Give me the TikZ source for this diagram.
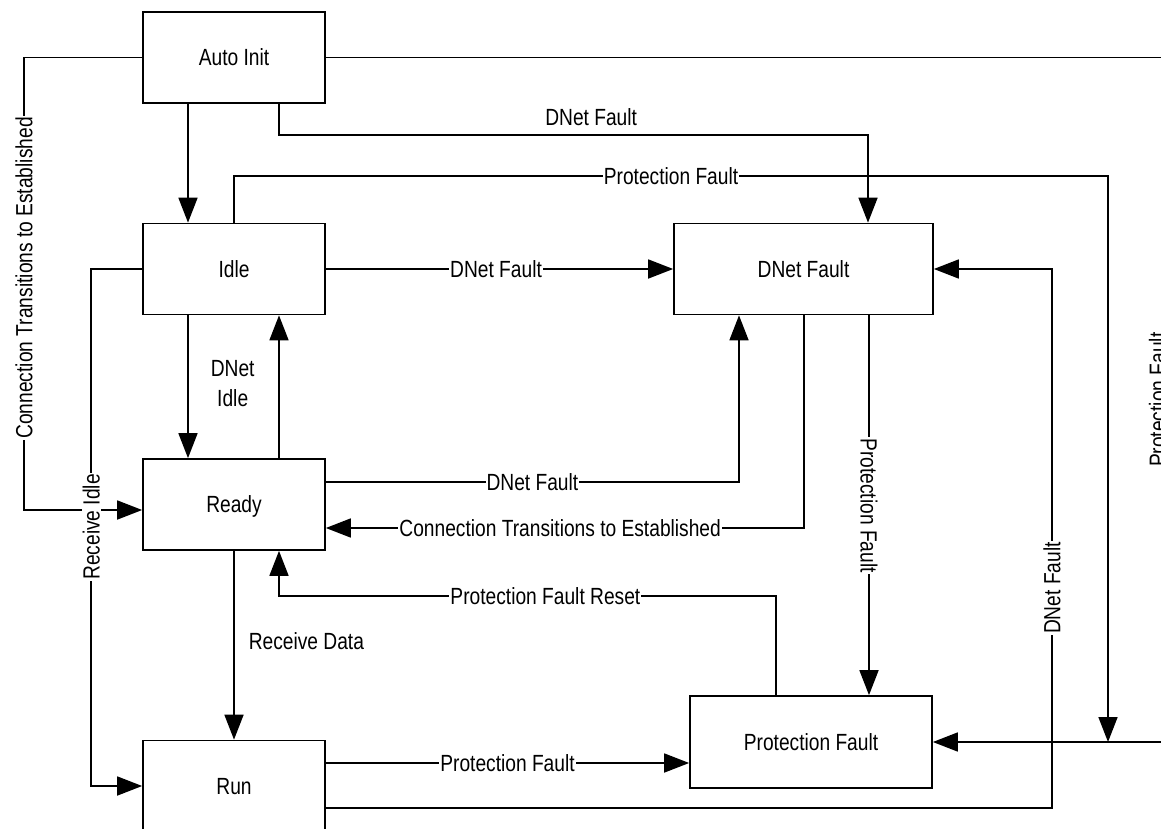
\documentclass[tikz,border=0pt]{standalone}
\usepackage{fontspec}
\setmainfont{Liberation Sans}[FakeStretch=0.82]
\usetikzlibrary{arrows.meta}
\begin{document}
\begin{tikzpicture}[x=1pt,y=-1pt,
  every node/.style={font=\fontsize{23.4pt}{30pt}\selectfont},
  box/.style={draw, line width=1.7pt, minimum width=182pt, minimum height=91pt,
    inner sep=0pt, fill=white, text height=16.8pt, text depth=0pt},
  conn/.style={line width=1.7pt},
  arr/.style={conn, -{Triangle[length=25pt,width=19pt]}},
  lbl/.style={fill=white, inner sep=1pt}
]
\useasboundingbox (0,0) rectangle (1161,829);
\clip (0,0) rectangle (1161,829);

% states
\node[box] (autoinit) at (234,57.5) {Auto Init};
\node[box] (idle) at (234,269) {Idle};
\node[box] (ready) at (234,504.5) {Ready};
\node[box] (run) at (234,786) {Run};
\node[box, minimum width=259pt] (dnet) at (803.5,269) {DNet Fault};
\node[box, minimum width=242pt, minimum height=92pt] (prot) at (811,742) {Protection Fault};

% Auto Init -> Ready (left loop)
\draw[arr] (autoinit.west) -- (24,57.5)
  -- node[lbl, rotate=90, pos=0.487]{Connection Transitions to Established} (24,510)
  -- ([yshift=-5.5pt]ready.west);

% Auto Init -> Protection Fault (right, off picture)
\draw[arr] (autoinit.east) -- (1168,57.5)
  -- node[lbl, rotate=90, pos=0.5, anchor=south]{Protection Fault} (1168,742)
  -- (prot.east);

% Auto Init -> Idle
\draw[arr] ([xshift=-46pt]autoinit.south) -- ([xshift=-46pt]idle.north);

% Auto Init -> DNet Fault
\draw[arr] ([xshift=45pt]autoinit.south) -- ++(0,31)
  -| node[lbl, pos=0.265, above=7pt]{DNet Fault} ([xshift=64.5pt]dnet.north);

% Idle -> DNet Fault
\draw[arr] (idle.east) -- node[lbl, pos=0.49]{DNet Fault} (dnet.west);

% Idle -> Run (Receive Idle)
\draw[arr] (idle.west) -- ++(-51,0)
  |- node[lbl, rotate=90, pos=0.2495]{Receive Idle} (run.west);

% Idle -> Ready (DNet Idle)
\draw[arr] ([xshift=-46pt]idle.south) --
  node[pos=0.48, right=22pt, align=center, inner sep=0pt]{DNet\\Idle} ([xshift=-46pt]ready.north);

% Ready -> Idle
\draw[arr] ([xshift=45pt]ready.north) -- ([xshift=45pt]idle.south);

% Ready -> DNet Fault
\draw[arr] ([yshift=22.5pt]ready.east)
  -| node[lbl, pos=0.25]{DNet Fault} ([xshift=-64.5pt]dnet.south);

% DNet Fault -> Ready
\draw[arr] ([xshift=0.5pt]dnet.south)
  |- node[lbl, pos=0.755]{Connection Transitions to Established} ([yshift=-23.5pt]ready.east);

% Ready -> Run
\draw[arr] (ready.south) -- node[pos=0.48, right=14pt, inner sep=0pt]{Receive Data} (run.north);

% Protection Fault -> Ready (reset)
\draw[arr] ([xshift=-35pt]prot.north) -- ++(0,-99)
  -| node[lbl, pos=0.232]{Protection Fault Reset} ([xshift=45pt]ready.south);

% DNet Fault -> Protection Fault
\draw[arr] ([xshift=65.5pt]dnet.south)
  -- node[lbl, rotate=-90, pos=0.501]{Protection Fault} ([xshift=58pt]prot.north);

% Run -> Protection Fault
\draw[arr] ([yshift=23pt]run.east) -- node[lbl, pos=0.5]{Protection Fault} ([yshift=-21pt]prot.west);

% Run -> DNet Fault
\draw[arr] ([yshift=-22pt]run.east) -- (1052,808)
  -- node[lbl, rotate=90, pos=0.408]{DNet Fault} (1052,269)
  -- (dnet.east);

% Idle -> Protection Fault
\coordinate (pfjoin) at (1108,742);
\draw[arr] (idle.north) -- (234,176)
  -- node[lbl, pos=0.5]{Protection Fault} (1108,176)
  -- (pfjoin);
\end{tikzpicture}
\end{document}
